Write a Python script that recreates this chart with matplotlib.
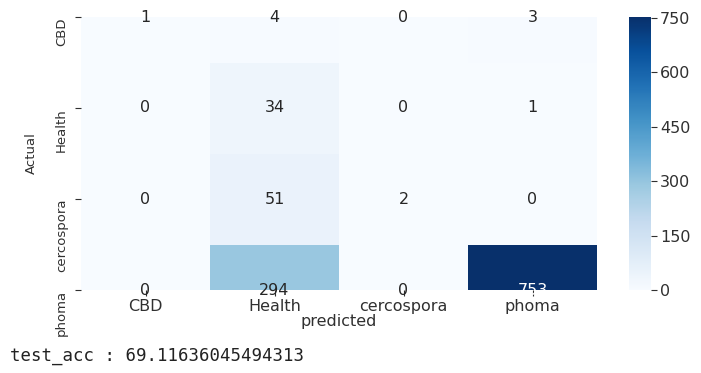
import numpy as np
import matplotlib
matplotlib.use("Agg")
import matplotlib.pyplot as plt
import seaborn as sns

# confusion matrix (rows = actual, cols = predicted)
classes = ["CBD", "Health", "cercospora", "phoma"]
row_cbd = [1, 4, 0, 3]
row_health = [0, 34, 0, 1]
row_cercospora = [0, 51, 2, 0]
row_phoma = [0, 294, 0, 753]
cbar_ticks = [0, 150, 300, 450, 600, 750]
test_acc = 69.11636045494313

cm = np.array([row_cbd, row_health, row_cercospora, row_phoma])

TXT = "#303030"

fig = plt.figure(figsize=(7.01, 3.73), dpi=100)
fig.patch.set_facecolor("white")
ax = fig.add_axes([81 / 701, 83 / 373, 516 / 701, 273 / 373])
cax = fig.add_axes([629 / 701, 83 / 373, 22 / 701, 273 / 373])

sns.heatmap(cm, annot=True, fmt="d", cmap="Blues", ax=ax, cbar_ax=cax,
            xticklabels=classes, yticklabels=classes,
            annot_kws={"fontsize": 11.5},
            cbar_kws={"ticks": cbar_ticks})

# half rows at top and bottom, as the old matplotlib heatmap rendered it
ax.set_ylim(3.5, 0.5)

ax.tick_params(axis="x", colors=TXT, labelsize=11.5, length=4.5, width=0.8, pad=2)
ax.tick_params(axis="y", colors=TXT, labelsize=9.5, length=4.5, width=0.8, pad=5)
cax.tick_params(colors=TXT, labelsize=11.5, length=4.5, width=0.8, pad=2)
for lab in ax.get_yticklabels():
    lab.set_rotation(90)
    lab.set_va("top")
    lab.set_ha("right")
for lab in ax.get_xticklabels():
    lab.set_rotation(0)

ax.set_xlabel("predicted", fontsize=11.5, color=TXT, labelpad=0)
ax.set_ylabel("Actual", fontsize=9.5, color=TXT, labelpad=12)

fig.text(10 / 701, 1 - 356 / 373, f"test_acc : {test_acc}", family="DejaVu Sans Mono",
         fontsize=12.5, color="#222222", va="center", ha="left")

fig.savefig("out.png", dpi=100, facecolor="white")
